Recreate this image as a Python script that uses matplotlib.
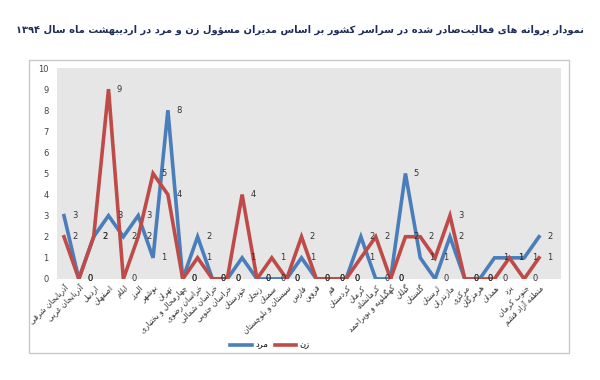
import re
import matplotlib
matplotlib.use('Agg')
import matplotlib.pyplot as plt
from matplotlib.patches import Rectangle

plt.rcParams['font.family'] = ['DejaVu Sans']

### DATA

provinces = ['آذربایجان شرقی', 'آذربایجان غربی', 'اردبیل', 'اصفهان', 'ایلام', 'البرز',
             'بوشهر', 'تهران', 'چهارمحال و بختیاری', 'خراسان رضوی', 'خراسان شمالی',
             'خراسان جنوبی', 'خوزستان', 'زنجان', 'سمنان', 'سیستان و بلوچستان', 'فارس',
             'قزوین', 'قم', 'کردستان', 'کرمان', 'کرمانشاه', 'کهگیلویه و بویراحمد',
             'گیلان', 'گلستان', 'لرستان', 'مازندران', 'مرکزی', 'هرمزگان', 'همدان',
             'یزد', 'جنوب کرمان', 'منطقه آزاد قشم']
men = [3, 0, 2, 3, 2, 3, 1, 8, 0, 2, 0, 0, 1, 0, 0, 0, 1, 0, 0, 0, 2, 0, 0, 5, 1, 0, 2, 0, 0, 1, 1, 1, 2]
women = [2, 0, 2, 9, 0, 2, 5, 4, 0, 1, 0, 0, 4, 0, 1, 0, 2, 0, 0, 0, 1, 2, 0, 2, 2, 1, 3, 0, 0, 0, 1, 0, 1]
series_names = ['مرد', 'زن']
title = 'نمودار پروانه های فعالیت\u200cصادر شده در سراسر کشور بر اساس مدیران مسؤول زن و مرد در اردیبهشت ماه سال ۱۳۹۴'

### SIMPLE PERSIAN SHAPING (matplotlib has no bidi / joining support)

# letter -> (isolated form code point, joins to the next letter?)
FORMS = {
    'ا': (0xFE8D, False), 'آ': (0xFE81, False), 'د': (0xFEA9, False), 'ذ': (0xFEAB, False),
    'ر': (0xFEAD, False), 'ز': (0xFEAF, False), 'و': (0xFEED, False), 'ژ': (0xFB8A, False),
    'ؤ': (0xFE85, False),
    'ب': (0xFE8F, True), 'ت': (0xFE95, True), 'ث': (0xFE99, True), 'ج': (0xFE9D, True),
    'ح': (0xFEA1, True), 'خ': (0xFEA5, True), 'س': (0xFEB1, True), 'ش': (0xFEB5, True),
    'ص': (0xFEB9, True), 'ض': (0xFEBD, True), 'ط': (0xFEC1, True), 'ظ': (0xFEC5, True),
    'ع': (0xFEC9, True), 'غ': (0xFECD, True), 'ف': (0xFED1, True), 'ق': (0xFED5, True),
    'ل': (0xFEDD, True), 'م': (0xFEE1, True), 'ن': (0xFEE5, True), 'ه': (0xFEE9, True),
    'ئ': (0xFE89, True), 'پ': (0xFB56, True), 'چ': (0xFB7A, True), 'ک': (0xFB8E, True),
    'گ': (0xFB92, True), 'ی': (0xFBFC, True),
}


def fa(text):
    out = []
    for i, c in enumerate(text):
        if c not in FORMS:
            if c != '\u200c':
                out.append(c)
            continue
        base, dual = FORMS[c]
        prev = text[i - 1] if i > 0 else ''
        nxt = text[i + 1] if i + 1 < len(text) else ''
        join_prev = prev in FORMS and FORMS[prev][1]
        join_next = dual and nxt in FORMS
        if join_prev and join_next:
            k = 3
        elif join_prev:
            k = 1
        elif join_next:
            k = 2
        else:
            k = 0
        out.append(chr(base + k))
    vis = ''.join(out)[::-1]
    # digits keep left-to-right order
    return re.sub('[0-9\u06f0-\u06f9]+', lambda m: m.group(0)[::-1], vis)


### PLOT

fig = plt.figure(figsize=(6, 3.8), dpi=100)
ax = fig.add_axes([0.095, 0.266, 0.84, 0.555])
ax.set_facecolor('#E6E6E6')

x = list(range(len(provinces)))
blue = '#4A7EBB'
red = '#BE4B48'
ax.plot(x, men, color=blue, lw=2.6, label=fa(series_names[0]), solid_joinstyle='miter')
ax.plot(x, women, color=red, lw=2.6, label=fa(series_names[1]), solid_joinstyle='miter')

for i in x:
    ax.annotate(str(men[i]), (i, men[i]), xytext=(6, 0), textcoords='offset points',
                ha='left', va='center', fontsize=6, color='#333333')
    ax.annotate(str(women[i]), (i, women[i]), xytext=(6, 0), textcoords='offset points',
                ha='left', va='center', fontsize=6, color='#333333')

ax.set_xlim(-0.47, len(provinces) + 0.48)
ax.set_ylim(0, 10)
ax.set_yticks(range(0, 11))
ax.tick_params(axis='y', length=0, labelsize=6, labelcolor='#444444', pad=6)
ax.set_xticks(x)
ax.set_xticklabels([fa(p) for p in provinces], rotation=45, ha='right',
                   rotation_mode='anchor', fontsize=5.5, color='#333333')
ax.tick_params(axis='x', length=0, pad=3)
for s in ax.spines.values():
    s.set_visible(False)

ax.legend(loc='center', bbox_to_anchor=(0.45, 0.092), bbox_transform=fig.transFigure,
          ncol=2, frameon=False, fontsize=6, handlelength=2.6, columnspacing=0.8,
          handletextpad=0.4)

# chart frame
fig.patches.append(Rectangle((29 / 600, 1 - 353 / 380), 540 / 600, 293 / 380,
                             transform=fig.transFigure, fill=False,
                             edgecolor='#C8C8C8', lw=1))

fig.text(0.5, 0.921, fa(title), ha='center', va='center', fontsize=7.1,
         fontweight='bold', color='#1F2D5C')

fig.savefig('out.png', dpi=100)
